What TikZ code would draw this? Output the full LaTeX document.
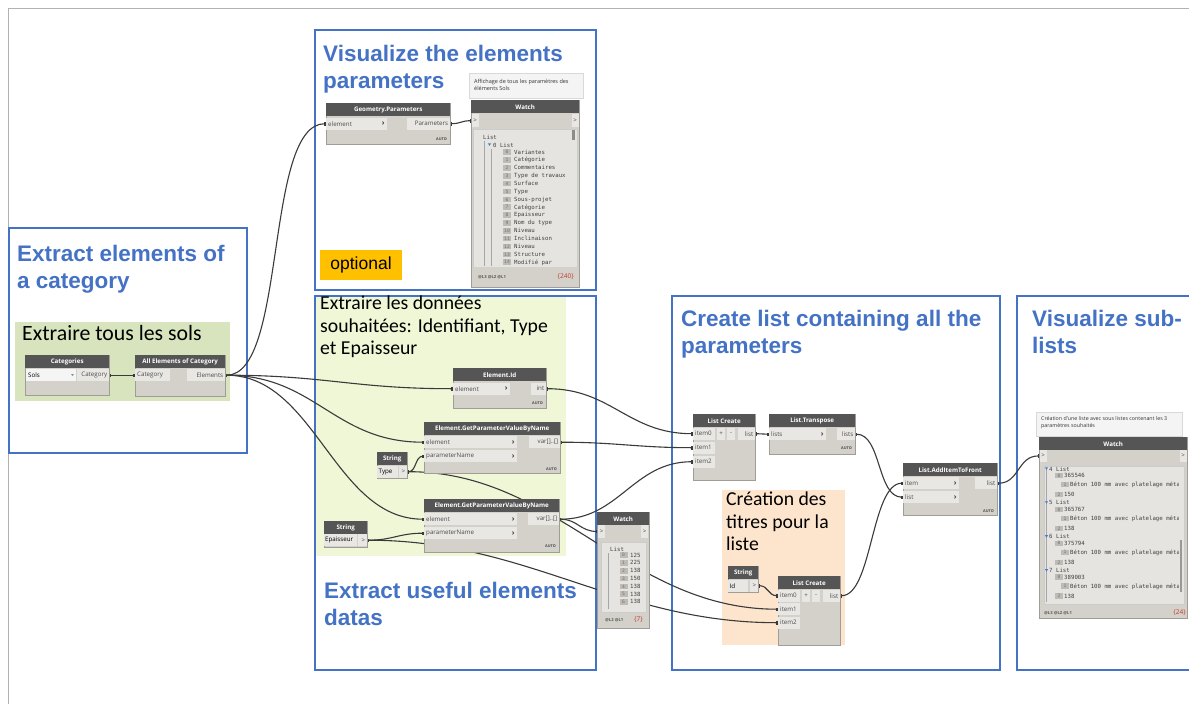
\documentclass[tikz,border=0pt]{standalone}
\usepackage{fontspec}
\setmainfont{Carlito}
\newfontfamily\ttlfont{Liberation Sans}
\newfontfamily\uifont{Open Sans}
\newfontfamily\wmono{DejaVu Sans Mono}
\usetikzlibrary{arrows.meta}

\definecolor{grpblue}{HTML}{4472C4}
\definecolor{greenA}{HTML}{D7E4BD}
\definecolor{greenB}{HTML}{EFF7D7}
\definecolor{peach}{HTML}{FDE4CD}
\definecolor{amber}{HTML}{FFC000}
\definecolor{hdr}{HTML}{555555}
\definecolor{nbody}{HTML}{D4D1CB}
\definecolor{portbg}{HTML}{E9E7E3}
\definecolor{nedge}{HTML}{A09D97}
\definecolor{wirec}{HTML}{3A3A3A}
\definecolor{idxbg}{HTML}{BEBBB5}
\definecolor{panelbg}{HTML}{E6E4E0}
\definecolor{treeblue}{HTML}{3C7FD0}
\definecolor{cntred}{HTML}{C0392B}
\definecolor{notebg}{HTML}{F4F4F4}

\pgfdeclarelayer{regions}
\pgfdeclarelayer{wires}
\pgfsetlayers{regions,wires,main}

\tikzset{
  grp/.style={draw=grpblue, line width=1.1pt},
  ttl/.style={font=\ttlfont\bfseries\fontsize{22.5}{26.5}\selectfont, text=grpblue, align=left, inner sep=0pt, anchor=north west},
  grptext/.style={font=\fontsize{19.7}{22.5}\selectfont, align=left, inner sep=0pt, anchor=north west},
  dnbody/.style={draw=nedge, fill=nbody, line width=0.5pt, inner sep=0pt, anchor=north west},
  dnhead/.style={fill=hdr, text=white, font=\uifont\bfseries\fontsize{6.2}{7}\selectfont, inner sep=0pt, minimum height=13pt, anchor=north west},
  portbox/.style={fill=portbg, inner sep=0pt, minimum height=12pt, anchor=north west},
  plabel/.style={font=\uifont\fontsize{6.2}{7}\selectfont, text=black!70, inner sep=0pt},
  chev/.style={font=\uifont\bfseries\fontsize{7.5}{7.5}\selectfont, text=black!75, inner sep=0pt},
  autotag/.style={font=\uifont\bfseries\fontsize{3.8}{4}\selectfont, text=black!70, inner sep=0pt, anchor=east},
  wire/.style={draw=wirec, line width=1.1pt, {Rectangle[length=1.6pt,width=3.2pt]}-{Rectangle[length=1.6pt,width=3.2pt]}},
  mono/.style={font=\wmono\fontsize{5.7}{6}\selectfont, text=black!75, inner sep=0pt, anchor=base west},
  idx/.style={fill=idxbg, font=\wmono\fontsize{4.6}{5}\selectfont, text=black!55, inner sep=0.5pt, minimum width=8pt, minimum height=5.6pt},
  panel/.style={fill=panelbg, draw=black!20, line width=0.4pt, inner sep=0pt, anchor=north west},
  notebox/.style={fill=notebg, draw=black!15, line width=0.4pt, inner sep=0pt, anchor=north west},
  notetext/.style={font=\uifont\fontsize{5.5}{7}\selectfont, text=black!80, align=left, inner sep=0pt, anchor=north west},
  foot/.style={font=\uifont\bfseries\fontsize{4.2}{5}\selectfont, text=black!65, inner sep=0pt, anchor=base west},
  cnt/.style={font=\uifont\fontsize{6.5}{7}\selectfont, text=cntred, inner sep=0pt, anchor=base east},
  optbox/.style={fill=amber, font=\ttlfont\fontsize{17.5}{20}\selectfont, inner sep=0pt, minimum width=82pt, minimum height=30pt},
}

% node frame: name, x, y, width, height, title
\newcommand\dynnode[6]{%
  \node[dnbody, minimum width=#4pt, minimum height=#5pt] (#1) at (#2,#3) {};
  \node[dnhead, minimum width=#4pt] (#1-h) at (#2,#3) {#6};}
% input port: node, port, x, y, width, label
\newcommand\inport[6]{%
  \node[portbox, minimum width=#5pt] (#1-#2) at (#3,#4) {};
  \node[plabel, anchor=west] at ([xshift=2pt]#1-#2.west) {#6};}
% output port: node, port, x, y, width, label
\newcommand\outport[6]{%
  \node[portbox, minimum width=#5pt] (#1-#2) at (#3,#4) {};
  \node[plabel, anchor=east] at ([xshift=-2pt]#1-#2.east) {#6};}
\newcommand\chevron[1]{\node[chev, anchor=east] at ([xshift=-2.5pt]#1.east) {›};}
\newcommand\autotag[2]{\node[autotag] at (#1,#2) {AUTO};}
% small expand triangle of a watch tree
\newcommand\treetri[2]{\fill[treeblue] (#1-1.6,#2-3.6) -- (#1+1.6,#2-3.6) -- (#1,#2-1.2) -- cycle;}

\begin{document}
\begin{tikzpicture}[x=1pt,y=-1pt]
\useasboundingbox (0,0) rectangle (1189,704);

\begin{pgfonlayer}{regions}
  \fill[white] (0,0) rectangle (1189,704);
  \draw[black!30, line width=0.7pt] (8,704) -- (8,8) -- (1189,8);
  % coloured groups
  \fill[greenA] (15,322) rectangle (230,401);
  \fill[greenB] (315,296) rectangle (566,556);
  \fill[peach] (722,490) rectangle (845,645);
  % section frames
  \draw[grp] (315,30) rectangle (596,290);
  \draw[grp] (9,228) rectangle (247,453);
  \draw[grp] (315,296) rectangle (596,670);
  \draw[grp] (672,296) rectangle (1000,670);
  \draw[grp] (1195,296) -- (1017,296) -- (1017,670) -- (1195,670);
\end{pgfonlayer}

% section titles
\node[ttl] (t1) at (323,45) {Visualize the elements\\parameters};
\node[ttl] (t2) at (17,245) {Extract elements of\\a category};
\node[ttl] (t3) at (324,582) {Extract useful elements\\datas};
\node[ttl] (t4) at (681,310) {Create list containing all the\\parameters};
\node[ttl] (t5) at (1032,310) {Visualize sub-\\lists};
\node[optbox] (opt) at (361,265) {optional};

% group captions
\node[grptext, font=\fontsize{21.8}{24}\selectfont] (g1) at (22,325) {Extraire tous les sols};
\node[grptext] (g2) at (320,296) {Extraire les données\\souhaitées: Identifiant, Type\\et Epaisseur};
\node[grptext] (g3) at (726,492) {Création des\\titres pour la\\liste};

% ---- Categories
\dynnode{cat}{25}{355}{84}{40}{Categories}
\node[portbox, fill=white!96!black, minimum width=50pt] (cat-sel) at (26,369) {};
\node[plabel, text=black, anchor=west] at ([xshift=2pt]cat-sel.west) {Sols};
\fill[black!45] (71,374) -- (74,374) -- (72.5,376) -- cycle;
\outport{cat}{out}{77}{369}{32}{Category}

% ---- All Elements of Category
\dynnode{allel}{135}{355}{90}{41}{All Elements of Category}
\inport{allel}{in}{135}{369}{35}{Category}
\outport{allel}{out}{187}{369}{38}{Elements}

% ---- Geometry.Parameters
\dynnode{gp}{326}{103}{124}{41}{Geometry.Parameters}
\inport{gp}{in}{326}{117.5}{61}{element}
\chevron{gp-in}
\outport{gp}{out}{407}{117.5}{43}{Parameters}
\autotag{447}{139}

% ---- Watch with the parameter names
\node[notebox, minimum width=114pt, minimum height=25pt] (c1) at (469,73) {};
\node[notetext] at (474,79) {Affichage de tous les paramètres des\\éléments Sols};
\dynnode{w1}{471}{100}{108}{187}{Watch}
\node[portbox, minimum width=7pt, minimum height=13pt] (w1-in) at (471.5,114) {};
\node[plabel] at (w1-in) {>};
\node[portbox, minimum width=7pt, minimum height=13pt] (w1-o) at (571.5,114) {};
\node[plabel] at (w1-o) {>};
\node[panel, minimum width=104pt, minimum height=138pt] (w1-list) at (473,129) {};
\draw[black!35, line width=0.4pt] (484,141) -- (484,266) (491,149) -- (491,266);
\fill[black!45] (572,130) rectangle (575,140);
\node[mono] at (483,139) {List};
\treetri{489.5}{147}
\node[mono] at (493,147) {0 List};
\foreach \i/\t in {0/Variantes,1/Catégorie,2/Commentaires,3/Type de travaux,4/Surface,5/Type,
  6/Sous-projet,7/Catégorie,8/Epaisseur,9/Nom du type,10/Niveau,11/Inclinaison,12/Niveau,
  13/Structure,14/Modifié par}{
  \pgfmathsetmacro\yy{154+\i*7.86}
  \node[idx] at (507,\yy-1.8) {\i};
  \node[mono] at (514,\yy) {\t};
}
\fill[nbody] (472,267) rectangle (578.5,286.5);
\node[foot] at (478,278) {@L3 @L2 @L1};
\node[cnt] at (574,278) {\{240\}};

% ---- Element.Id
\dynnode{eid}{453}{368}{93}{40}{Element.Id}
\inport{eid}{in}{453}{382.5}{57}{element}
\chevron{eid-in}
\outport{eid}{out}{531}{382.5}{15}{int}
\autotag{543}{403}

% ---- first Element.GetParameterValueByName
\dynnode{gv1}{424}{422}{136}{51}{Element.GetParameterValueByName}
\inport{gv1}{in1}{424}{436}{93}{element}
\chevron{gv1-in1}
\inport{gv1}{in2}{424}{450}{93}{parameterName}
\chevron{gv1-in2}
\outport{gv1}{out}{529}{436}{31}{var[]..[]}
\autotag{557}{469}

% ---- String "Type"
\dynnode{sT}{377}{452}{30}{26}{String}
\node[portbox, minimum width=21pt] (sT-val) at (377,465.5) {};
\node[plabel, text=black, anchor=west] at ([xshift=1.5pt]sT-val.west) {Type};
\outport{sT}{out}{398.5}{465.5}{8.5}{>}

% ---- second Element.GetParameterValueByName
\dynnode{gv2}{424}{499}{135}{53}{Element.GetParameterValueByName}
\inport{gv2}{in1}{424}{513}{93}{element}
\chevron{gv2-in1}
\inport{gv2}{in2}{424}{527}{93}{parameterName}
\chevron{gv2-in2}
\outport{gv2}{out}{528}{513}{31}{var[]..[]}
\autotag{556}{546}

% ---- String "Epaisseur"
\dynnode{sE}{324}{521}{43}{26}{String}
\node[portbox, minimum width=33pt] (sE-val) at (324,534) {};
\node[plabel, text=black, anchor=west] at ([xshift=1pt]sE-val.west) {Epaisseur};
\outport{sE}{out}{358}{534}{9}{>}

% ---- Watch with the thickness values
\dynnode{w2}{597}{512}{52}{116}{Watch}
\node[portbox, minimum width=7pt, minimum height=12.5pt] (w2-in) at (598,525) {};
\node[plabel] at (w2-in) {>};
\node[portbox, minimum width=7pt, minimum height=12.5pt] (w2-o) at (641,525) {};
\node[plabel] at (w2-o) {>};
\node[panel, minimum width=45pt, minimum height=70pt] (w2-list) at (601,542) {};
\draw[black!35, line width=0.4pt] (608,553) -- (608,609);
\node[mono] at (610,551) {List};
\foreach \i/\v in {0/125,1/225,2/138,3/150,4/138,5/138,6/138}{
  \pgfmathsetmacro\yy{557+\i*7.8}
  \node[idx] at (623.5,\yy-1.8) {\i};
  \node[mono] at (630,\yy) {\v};
}
\node[foot] at (605,621) {@L2 @L1};
\node[cnt] at (643,621) {\{7\}};

% ---- List Create (values)
\dynnode{lc1}{693}{414}{62}{66}{List Create}
\inport{lc1}{i0}{693}{427.5}{22}{item0}
\inport{lc1}{i1}{693}{441.5}{22}{item1}
\inport{lc1}{i2}{693}{455.5}{22}{item2}
\node[portbox, minimum width=8pt] (lc1-p) at (717,427.5) {};
\node[plabel] at (lc1-p) {+};
\node[portbox, minimum width=8pt] (lc1-m) at (727,427.5) {};
\node[plabel] at (lc1-m) {-};
\outport{lc1}{out}{738}{427.5}{17}{list}

% ---- List.Transpose
\dynnode{tr}{769}{414}{86}{40}{List.Transpose}
\inport{tr}{in}{769}{428}{57}{lists}
\chevron{tr-in}
\outport{tr}{out}{837}{428}{18}{lists}
\autotag{852}{448}

% ---- List.AddItemToFront
\dynnode{ai}{903}{463}{94}{52}{List.AddItemToFront}
\inport{ai}{item}{903}{477}{56}{item}
\chevron{ai-item}
\inport{ai}{lst}{903}{491}{56}{list}
\chevron{ai-lst}
\outport{ai}{out}{975}{477}{22}{list}
\autotag{994}{511}

% ---- String "Id"
\dynnode{sI}{728}{566}{30}{26}{String}
\node[portbox, minimum width=20pt] (sI-val) at (728,579.5) {};
\node[plabel, text=black, anchor=west] at ([xshift=1.5pt]sI-val.west) {Id};
\outport{sI}{out}{749.5}{579.5}{8.5}{>}

% ---- List Create (titles)
\dynnode{lc2}{778}{576}{62}{69}{List Create}
\inport{lc2}{i0}{778}{589.5}{22}{item0}
\inport{lc2}{i1}{778}{603}{22}{item1}
\inport{lc2}{i2}{778}{616.5}{22}{item2}
\node[portbox, minimum width=8pt] (lc2-p) at (802,589.5) {};
\node[plabel] at (lc2-p) {+};
\node[portbox, minimum width=8pt] (lc2-m) at (812,589.5) {};
\node[plabel] at (lc2-m) {-};
\outport{lc2}{out}{823}{589.5}{17}{list}

% ---- Watch with the sub-lists
\node[notebox, minimum width=146pt, minimum height=24pt] (c3) at (1036,412) {};
\node[notetext, font=\uifont\fontsize{5.3}{7}\selectfont] at (1041,416) {Création d'une liste avec sous listes contenant les 3\\paramètres souhaités};
\dynnode{w3}{1039}{437}{148}{181}{Watch}
\node[portbox, minimum width=7pt, minimum height=11.5pt] (w3-in) at (1039.5,450) {};
\node[plabel] at (w3-in) {>};
\node[portbox, minimum width=7pt, minimum height=11.5pt] (w3-o) at (1179.5,450) {};
\node[plabel] at (w3-o) {>};
\node[panel, minimum width=140pt, minimum height=138pt] (w3-list) at (1044,466) {};
\begin{scope}
  \clip (1044,466.5) rectangle (1178,603.5);
  \draw[black!35, line width=0.4pt] (1046.5,468) -- (1046.5,602);
  \foreach \g/\a/\c [count=\n from 0] in {4/365546/150,5/365767/138,6/375794/138,7/389003/138}{
    \pgfmathsetmacro\yy{471+\n*33.9}
    \treetri{1046.5}{\yy}
    \node[mono] at (1049,\yy) {\g\ List};
    \node[idx] at (1059,\yy+4.5) {0};
    \node[mono] at (1064,\yy+6.5) {\a};
    \node[idx] at (1065,\yy+13.5) {1};
    \node[mono] at (1070,\yy+15.5) {Béton 100 mm avec platelage métal};
    \node[idx] at (1059,\yy+23.5) {2};
    \node[mono] at (1064,\yy+25.5) {\c};
  }
\end{scope}
\fill[black!40] (1179.5,540) rectangle (1182,592);
\node[foot] at (1044,614) {@L3 @L2 @L1};
\node[cnt] at (1186,614) {\{24\}};

% ---- connectors
\begin{pgfonlayer}{wires}
  \draw[wire] (cat-out.east) .. controls +(14,0) and +(-14,0) .. (allel-in.west);
  \draw[wire] (allel-out.east) .. controls +(62,0) and +(-62,0) .. (gp-in.west);
  \draw[wire] (allel-out.east) .. controls +(100,0) and +(-100,0) .. (eid-in.west);
  \draw[wire] (allel-out.east) .. controls +(90,0) and +(-90,0) .. (gv1-in1.west);
  \draw[wire] (allel-out.east) .. controls +(90,0) and +(-90,0) .. (gv2-in1.west);
  \draw[wire] (gp-out.east) .. controls +(10,0) and +(-10,0) .. (w1-in.west);
  \draw[wire] (eid-out.east) .. controls +(65,0) and +(-65,0) .. (lc1-i0.west);
  \draw[wire] (gv1-out.east) .. controls +(55,0) and +(-55,0) .. (lc1-i1.west);
  \draw[wire] (gv2-out.east) .. controls +(60,0) and +(-60,0) .. (lc1-i2.west);
  \draw[wire] (gv2-out.east) .. controls +(18,0) and +(-18,0) .. (w2-in.west);
  \draw[wire] (sT-out.east) .. controls +(9,0) and +(-9,0) .. (gv1-in2.west);
  \draw[wire] (sT-out.east) .. controls +(150,0) and +(-150,0) .. (lc2-i1.west);
  \draw[wire] (sE-out.east) .. controls +(25,0) and +(-25,0) .. (gv2-in2.west);
  \draw[wire] (sE-out.east) .. controls +(160,0) and +(-160,0) .. (lc2-i2.west);
  \draw[wire] (sI-out.east) .. controls +(10,0) and +(-10,0) .. (lc2-i0.west);
  \draw[wire] (lc1-out.east) .. controls +(6,0) and +(-6,0) .. (tr-in.west);
  \draw[wire] (tr-out.east) .. controls +(26,0) and +(-26,0) .. (ai-lst.west);
  \draw[wire] (lc2-out.east) .. controls +(32,0) and +(-32,0) .. (ai-item.west);
  \draw[wire] (ai-out.east) .. controls +(22,0) and +(-22,0) .. (w3-in.west);
\end{pgfonlayer}
\end{tikzpicture}
\end{document}
